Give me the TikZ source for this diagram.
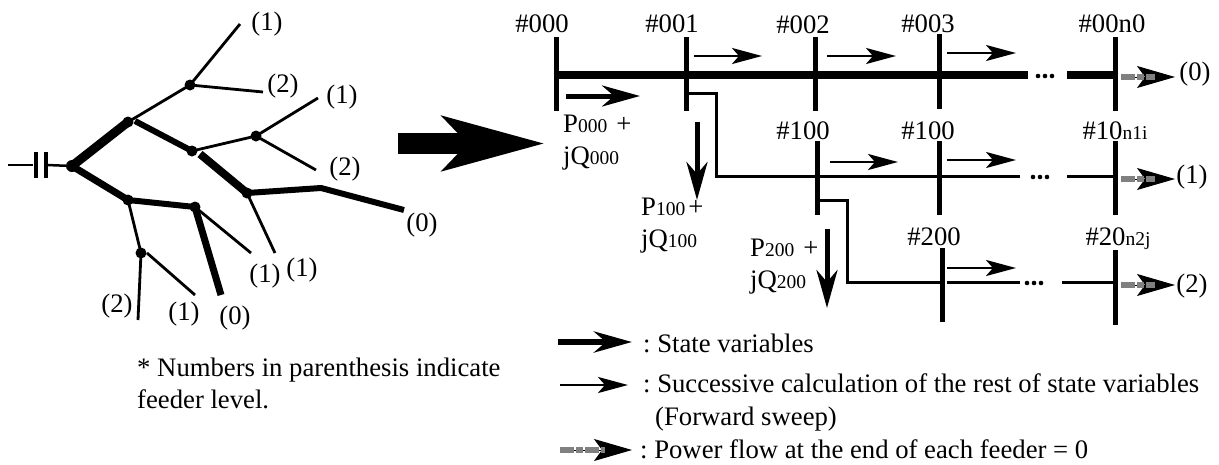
\documentclass[tikz,border=0pt]{standalone}
\usepackage{fontspec}
\setmainfont{Liberation Serif}
\usepackage{tikz}
\usetikzlibrary{arrows.meta}
\frenchspacing
\newcommand{\smalldig}[1]{{\fontsize{19.5}{21}\selectfont #1}}
\tikzset{
    lbl/.style={inner sep=0pt, font=\fontsize{26.7}{32}\selectfont, text=black},
    dotnode/.style={circle, fill=black, inner sep=0pt, minimum size=11pt},
    busbar/.style={line width=5pt},
    feederzero/.style={line width=8.5pt},
    feederone/.style={line width=3pt},
    branch/.style={line width=2.8pt},
    statearrow/.style={line width=5pt, -{Stealth[length=38pt, width=21pt, inset=12pt]}},
    sweeparrow/.style={line width=2.8pt, -{Stealth[length=30pt, width=16pt, inset=7pt]}},
    endhead/.style={line width=1pt, -{Stealth[length=38pt, width=22pt, inset=8pt]}},
    endshaft/.style={line width=6pt, draw=black!50, dash pattern=on 14pt off 2pt on 7pt off 2pt},
}
\begin{document}
\begin{tikzpicture}[x=1pt, y=-1pt]
    \useasboundingbox (0,0) rectangle (1219,464);

    % Capacitor at the head of the tree
    \foreach \n/\x/\y in {wa/8/165, wb/33/165, wc/47/165, pa/36/152, pb/36/178, pc/46/152, pd/46/178} {
        \coordinate (\n) at (\x,\y);
    }
    \node[dotnode, minimum size=12pt] (root) at (72,166) {};
    \draw[line width=2.5pt] (wa) -- (wb);
    \draw[line width=2.5pt] (wc) -- (root.center);
    \draw[line width=3.5pt] (pa) -- (pb);
    \draw[line width=3.5pt] (pc) -- (pd);

    % Junctions and free ends of the tree
    \foreach \n/\x/\y in {ja/128/122, jb/192/151, jc/247/193, jf/128/200, jg/195/207, ji/190/85, jj/256/136, jk/141/253} {
        \node[dotnode] (\n) at (\x,\y) {};
    }
    \foreach \n/\x/\y in {jas/135/121, jbs/200/154, jd/321/188, ee/404/210, eh/221/295, ia/240/24, ib/263/92,
                          ja2/318/98, jb2/316/170, ec/275/253, eg/251/253, ka/138/320, kbs/147/253, kb/195/295} {
        \coordinate (\n) at (\x,\y);
    }

    % Tree branches
    \draw[line width=9pt] (root.center) -- (ja.center);
    \draw[line width=7pt] (root.center) -- (jf.center);
    \draw[line width=6pt] (jas) -- (jb.center);
    \draw[line width=8pt] (jbs) -- (jc.center);
    \draw[line width=6pt] (jc.center) -- (jd) -- (ee);
    \draw[line width=6pt] (jf.center) -- (jg.center);
    \draw[line width=7pt] (jg.center) -- (eh);
    \draw[branch] (ja.center) -- (ji.center);
    \draw[branch] (ji.center) -- (ia);
    \draw[branch] (ji.center) -- (ib);
    \draw[branch] (jb.center) -- (jj.center);
    \draw[branch] (jj.center) -- (ja2);
    \draw[branch] (jj.center) -- (jb2);
    \draw[branch] (jc.center) -- (ec);
    \draw[branch] (jg.center) -- (eg);
    \draw[branch] (jf.center) -- (jk.center);
    \draw[branch] (jk.center) -- (ka);
    \draw[branch] (kbs) -- (kb);

    % Feeder levels on the tree
    \foreach \n/\x/\y/\t in {la/267/24/(1), lb/283/86/(2), lc/342/97/(1), ld/345/169/(2), le/422/225/(0),
                             lf/302/270/(1), lg/265/276/(1), lh/117/306/(2), li/184/314/(1), lj/235/318/(0)} {
        \node[lbl] (\n) at (\x,\y) {\t};
    }
    \node[lbl, align=left, anchor=north west] (note) at (137,358) {* Numbers in parenthesis indicate\\feeder level.};

    % Big arrow between the two halves
    \coordinate (bigs) at (398,143.5);
    \coordinate (bige) at (545,143.5);
    \draw[line width=21pt, -{Stealth[length=101pt, width=53pt, inset=24pt]}] (bigs) -- (bige);

    % Bus bars
    \foreach \n/\x/\ya/\yb in {a/556/37/111, b/686/37/111, c/815/37/111, d/939/34/109, e/1115/37/111,
                               f/817/141/215, g/939/141/215, h/1115/141/215, i/942/248/322, j/1115/250/325} {
        \coordinate (\n t) at (\x,\ya);
        \coordinate (\n b) at (\x,\yb);
        \draw[busbar] (\n t) -- (\n b);
    }
    \foreach \n/\x/\y/\t in {na/542/24/\#000, nb/672/24/\#001, nc/803/25/\#002, nd/928/24/\#003, ne/1112/24/\#00n0,
                             nf/803/131/\#100, ng/928/131/\#100, ni/934/237/\#200} {
        \node[lbl] (\n) at (\x,\y) {\t};
    }
    \node[lbl] (nh) at (1115,131) {\#10\smalldig{n1i}};
    \node[lbl] (nj) at (1118,239) {\#20\smalldig{n2j}};

    % Feeders
    \foreach \n/\x/\y in {fa/556/75, fb/1028/75, fc/1067/75, fd/1115/75, fe/716/176, ff/1020/176, fg/1067/176, fh/1115/176,
                          ga/847/282, gb/942/282, gc/947/282, gd/1020/282, ge/1062/282, gf/1115/282,
                          ca/686/93, cb/716/93, cc/817/200, cd/847/200} {
        \coordinate (\n) at (\x,\y);
    }
    \draw[feederzero] (fa) -- (fb);
    \draw[feederzero] (fc) -- (fd);
    \draw[feederone] (ca) -- (cb) -- (fe) -- (ff);
    \draw[feederone] (fg) -- (fh);
    \draw[feederone] (cc) -- (cd) -- (ga) -- (gb);
    \draw[feederone] (gc) -- (gd);
    \draw[feederone] (ge) -- (gf);
    \foreach \x/\y in {1038/76, 1045/76, 1052/76, 1033/177, 1040/177, 1047/177, 1027/283, 1034/283, 1041/283} {
        \fill (\x,\y) circle (2.3);
    }

    % Arrows along the feeders
    \foreach \n/\xa/\ya/\xb/\yb in {sa/694/56/762/56, sb/827/56/896/56, sc/947/53/1016/53,
                                    sd/830/162/898/162, se/947/160/1016/160, sf/947/268/1016/268} {
        \coordinate (\n s) at (\xa,\ya);
        \coordinate (\n e) at (\xb,\yb);
        \draw[sweeparrow] (\n s) -- (\n e);
    }
    \foreach \n/\xa/\ya/\xb/\yb in {ta/566/96/640/96, tb/697/122/697/200, tc/827/229/827/308} {
        \coordinate (\n s) at (\xa,\ya);
        \coordinate (\n e) at (\xb,\yb);
        \draw[statearrow] (\n s) -- (\n e);
    }
    \foreach \n/\ya in {ua/77, ub/179, uc/285} {
        \coordinate (\n s) at (1121,\ya);
        \coordinate (\n e) at (1175,\ya);
        \coordinate (\n m) at (1155,\ya);
        \draw[endhead] (\n s) -- (\n e);
        \draw[endshaft] (\n s) -- (\n m);
    }
    \node[lbl] (oa) at (1195,74) {(0)};
    \node[lbl] (ob) at (1192,177) {(1)};
    \node[lbl] (oc) at (1192,286) {(2)};

    % Power labels
    \node[lbl, align=left, anchor=north west] (pq) at (563,115) {P\smalldig{000}\hspace{9pt}+\\jQ\smalldig{000}};
    \node[lbl, align=left, anchor=north west] (pr) at (641,198) {P\smalldig{100}\hspace{3pt}+\\jQ\smalldig{100}};
    \node[lbl, align=left, anchor=north west] (ps) at (750,239) {P\smalldig{200}\hspace{9pt}+\\jQ\smalldig{200}};

    % Legend
    \foreach \n/\xa/\xm/\xb/\ya in {va/558/595/632/342, vb/560/595/628/385, vc/560/605/632/450} {
        \coordinate (\n s) at (\xa,\ya);
        \coordinate (\n m) at (\xm,\ya);
        \coordinate (\n e) at (\xb,\ya);
    }
    \draw[statearrow, line width=6pt] (vas) -- (vae);
    \draw[sweeparrow] (vbs) -- (vbe);
    \draw[endhead] (vcs) -- (vce);
    \draw[endshaft] (vcs) -- (vcm);
    \node[lbl, anchor=base west] (lega) at (643,352) {: State variables};
    \node[lbl, anchor=base west] (legb) at (643,392) {: Successive calculation of the rest of state variables};
    \node[lbl, anchor=base west] (legc) at (655,425) {(Forward sweep)};
    \node[lbl, anchor=base west] (legd) at (640,458) {: Power flow at the end of each feeder = 0};
\end{tikzpicture}
\end{document}
